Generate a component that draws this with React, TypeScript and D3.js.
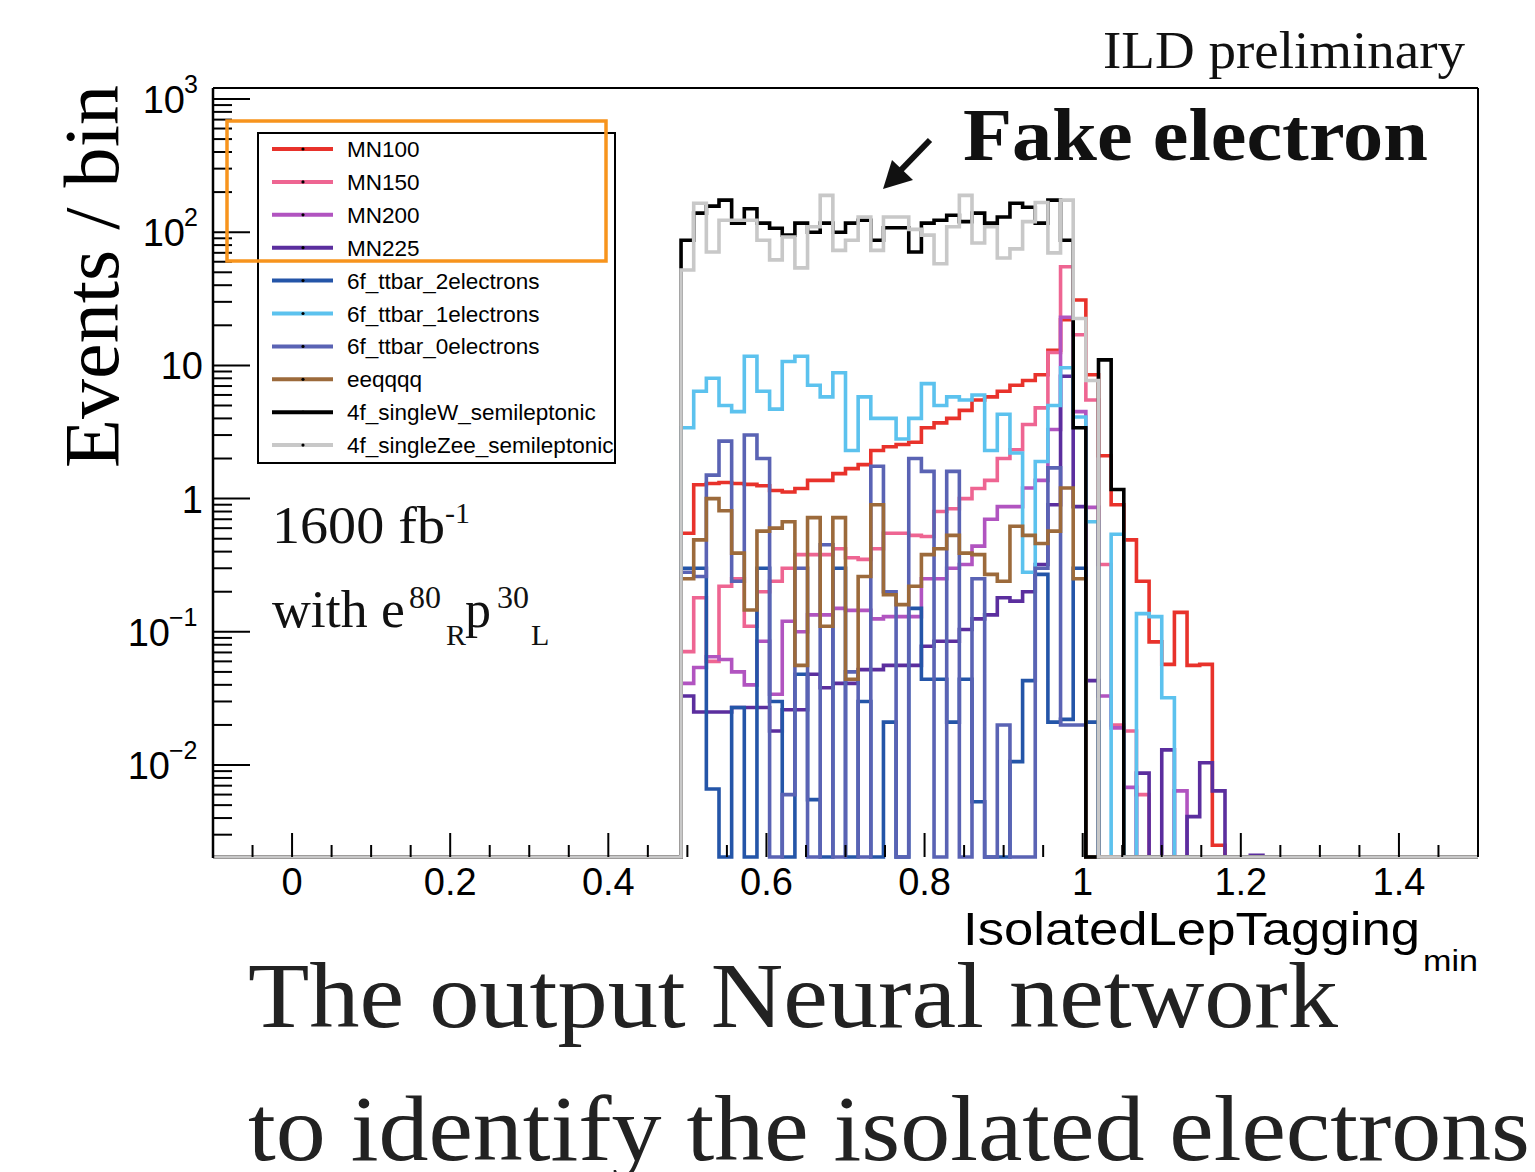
import React from 'react';
import * as d3 from 'd3';

// ---- histogram binning (ROOT-style: 100 bins from -0.1 to 1.5) ----
const BIN_LO = -0.1;
const BIN_W = 0.016;
const N_BINS = 100;
const FIRST_BIN = 37; // every data array starts at this bin (x = 0.492)

// ---- series values (events / bin), bins 37 .. 82 ----
const mn100 = [0.55, 1.27, 1.3, 1.32, 1.3, 1.28, 1.25, 1.15, 1.12, 1.19, 1.37, 1.37, 1.54, 1.68, 1.8, 2.3, 2.45, 2.55, 2.65, 3.4, 3.7, 4.0, 4.6, 5.5, 5.8, 6.4, 7.1, 7.7, 8.5, 13, 22, 31, 8.5, 2.1, 0.9, 0.49, 0.24, 0.084, 0.057, 0.14, 0.056, 0.057, 0.0025, 0, 0, 0];
const mn150 = [0.071, 0.18, 0.06, 0.22, 0.25, 0.11, 0.2, 0.24, 0.3, 0.38, 0.38, 0.38, 0.42, 0.36, 0.35, 0.42, 0.55, 0.55, 0.53, 0.52, 0.8, 0.84, 1.0, 1.19, 1.37, 2.0, 2.33, 3.6, 4.8, 12.5, 55, 17, 5.5, 0.32, 0.02, 0.018, 0.006, 0, 0, 0, 0, 0, 0, 0, 0, 0];
const mn200 = [0.041, 0.054, 0.065, 0.062, 0.05, 0.04, 0.085, 0.034, 0.12, 0.1, 0.134, 0.134, 0.15, 0.145, 0.145, 0.125, 0.13, 0.13, 0.13, 0.25, 0.25, 0.3, 0.32, 0.44, 0.7, 0.87, 0.87, 1.2, 1.37, 3.3, 23, 4.5, 0.86, 0.033, 0.019, 0.0068, 0, 0, 0, 0.0064, 0, 0, 0, 0, 0, 0];
const mn225 = [0.033, 0.025, 0.025, 0.025, 0.027, 0.027, 0.027, 0.018, 0.026, 0.026, 0.048, 0.038, 0.041, 0.041, 0.052, 0.052, 0.056, 0.056, 0.056, 0.078, 0.085, 0.085, 0.104, 0.125, 0.134, 0.18, 0.17, 0.2, 0.32, 0.9, 8.3, 0.87, 0.043, 0, 0, 0, 0.0087, 0, 0.013, 0, 0.0041, 0.0104, 0.0064, 0, 0, 0.0021];
const ttbar2e = [0.3, 0.3, 0.0066, 0, 0.027, 0, 0.3, 0.03, 0, 0.048, 0.0055, 0, 0.3, 0, 0.03, 0, 0.021, 0, 0.15, 0.044, 0.044, 0.021, 0.044, 0.0053, 0, 0, 0.0106, 0.043, 0.27, 0.021, 0.022, 0.3, 0.021, 0, 0, 0, 0, 0, 0, 0, 0, 0, 0, 0, 0, 0];
const ttbar1e = [3.4, 6.4, 8.0, 5.0, 4.5, 11.7, 6.4, 4.7, 10.7, 11.7, 7.1, 5.8, 8.8, 2.3, 5.8, 4.0, 4.0, 2.8, 4.0, 7.3, 5.0, 5.8, 5.5, 6.0, 2.3, 4.3, 2.2, 0.28, 1.9, 5.0, 9.6, 4.1, 0.67, 0, 0.54, 0, 0.137, 0.13, 0.032, 0, 0, 0, 0, 0, 0, 0];
const ttbar0e = [0.28, 0.26, 1.5, 2.7, 0.24, 3.0, 2.0, 0, 0.006, 0.3, 0, 0.45, 0, 0.05, 0, 1.75, 0.2, 0, 2.0, 1.6, 0, 1.6, 0, 0.25, 0, 0.02, 0, 0, 0.3, 1.7, 0.02, 0.02, 0, 0, 0, 0, 0, 0, 0, 0, 0, 0, 0, 0, 0, 0];
const eeqqqq = [0.25, 0.49, 1.0, 0.81, 0.39, 0.146, 0.57, 0.6, 0.67, 0.056, 0.72, 0.11, 0.72, 0.044, 0.26, 0.9, 0.19, 0.16, 0.22, 0.38, 0.42, 0.53, 0.39, 0.38, 0.27, 0.24, 0.62, 0.53, 0.46, 0.57, 1.2, 0.25, 0, 0, 0, 0, 0, 0, 0, 0, 0, 0, 0, 0, 0, 0];
const singleW = [87, 139, 157, 174, 117, 150, 117, 107, 95, 117, 100, 117, 100, 117, 123, 87, 108, 108, 71, 117, 123, 134, 120, 139, 117, 130, 165, 154, 117, 174, 87, 3.4, 0, 11, 1.17, 0, 0, 0, 0, 0, 0, 0, 0, 0, 0, 0];
const singleZee = [52, 165, 71, 123, 123, 123, 87, 62, 92, 54, 110, 189, 73, 87, 130, 73, 130, 130, 105, 95, 58, 110, 189, 83, 110, 64, 75, 120, 167, 70, 174, 22.5, 7.7, 0, 0, 0, 0, 0, 0, 0, 0, 0, 0, 0, 0, 0];

const seriesNames = ['MN100', 'MN150', 'MN200', 'MN225', '6f_ttbar_2electrons', '6f_ttbar_1electrons', '6f_ttbar_0electrons', 'eeqqqq', '4f_singleW_semileptonic', '4f_singleZee_semileptonic'];
const seriesValues = [mn100, mn150, mn200, mn225, ttbar2e, ttbar1e, ttbar0e, eeqqqq, singleW, singleZee];
const seriesColors = ['#e8322b', '#ee6592', '#b154c0', '#5b2e9e', '#2455a8', '#5cc2ee', '#5a63b4', '#9c6a3b', '#000000', '#c8c8c8'];

const xTickValues = [0, 0.2, 0.4, 0.6, 0.8, 1, 1.2, 1.4];
const xTickLabels = ['0', '0.2', '0.4', '0.6', '0.8', '1', '1.2', '1.4'];
const yDecades = [-2, -1, 0, 1, 2, 3];
const yTickBase = ['10', '10', '1', '10', '10', '10'];
const yTickSup = ['\u22122', '\u22121', '', '', '2', '3'];

const X_DOMAIN: [number, number] = [-0.1, 1.5];
const Y_DOMAIN: [number, number] = [0.00204, 1209];

const FRAME = { left: 213, right: 1478, top: 88, bottom: 857 };

export default function App() {
  const x = d3.scaleLinear().domain(X_DOMAIN).range([FRAME.left, FRAME.right]);
  const y = d3.scaleLog().domain(Y_DOMAIN).range([FRAME.bottom, FRAME.top]);
  const yMin = Y_DOMAIN[0];

  const histPath = (vals: number[]) => {
    const p = d3.path();
    for (let i = 0; i < N_BINS; i++) {
      const j = i - FIRST_BIN;
      const v = j >= 0 && j < vals.length ? vals[j] : 0;
      const yy = y(Math.max(v, yMin));
      const x0 = x(BIN_LO + i * BIN_W);
      const x1 = x(BIN_LO + (i + 1) * BIN_W);
      if (i === 0) p.moveTo(x0, yy);
      else p.lineTo(x0, yy);
      p.lineTo(x1, yy);
    }
    return p.toString();
  };

  // x ticks: major every 0.2, minor every 0.05
  const xMinor: number[] = d3.range(-0.1, 1.5001, 0.05).map((v) => Math.round(v * 100) / 100);
  // y minor ticks
  const yMinor: number[] = [];
  for (let d = -3; d <= 3; d++) {
    for (let m = 2; m <= 9; m++) {
      const v = m * Math.pow(10, d);
      if (v >= Y_DOMAIN[0] && v <= Y_DOMAIN[1]) yMinor.push(v);
    }
  }

  const sans = "'Liberation Sans', Arial, Helvetica, sans-serif";
  const serif = "'Liberation Serif', 'Times New Roman', serif";

  const legendX = 258, legendY = 133, legendW = 357, legendH = 330;
  const legendRow0 = 149, legendStep = 32.9;

  return (
    <svg width={1535} height={1172} style={{ position: 'absolute', left: 0, top: 0, background: '#fff' }}>
      <defs>
        <clipPath id="plotClip">
          <rect x={FRAME.left} y={FRAME.top} width={FRAME.right - FRAME.left} height={FRAME.bottom - FRAME.top + 2} />
        </clipPath>
      </defs>
      <rect x={0} y={0} width={1535} height={1172} fill="#fff" />

      {/* frame */}
      <line x1={FRAME.left} x2={FRAME.right} y1={FRAME.top} y2={FRAME.top} stroke="#000" strokeWidth={2} />
      <line x1={FRAME.right} x2={FRAME.right} y1={FRAME.top} y2={FRAME.bottom} stroke="#000" strokeWidth={2} />

      {/* histograms */}
      <g clipPath="url(#plotClip)" fill="none" strokeLinejoin="miter">
        {seriesValues.map((vals, k) => (
          <path key={k} d={histPath(vals)} stroke={seriesColors[k]} strokeWidth={3.6} />
        ))}
      </g>

      {/* left axis */}
      <line x1={FRAME.left} x2={FRAME.left} y1={FRAME.top} y2={FRAME.bottom + 1} stroke="#000" strokeWidth={2.5} />
      {yDecades.map((d) => (
        <line key={'ym' + d} x1={FRAME.left} x2={FRAME.left + 37} y1={y(Math.pow(10, d))} y2={y(Math.pow(10, d))} stroke="#000" strokeWidth={2} />
      ))}
      {yMinor.map((v, i) => (
        <line key={'yn' + i} x1={FRAME.left} x2={FRAME.left + 19} y1={y(v)} y2={y(v)} stroke="#000" strokeWidth={2} />
      ))}
      {yDecades.map((d, i) => (
        <text key={'yl' + d} x={yTickSup[i] ? 203 - (yTickSup[i].length > 1 ? 33 : 18) : 203} y={y(Math.pow(10, d)) + 14} textAnchor="end" fontFamily={sans} fontSize={38} fill="#000">
          {yTickBase[i]}
        </text>
      ))}
      {yDecades.map((d, i) =>
        yTickSup[i] ? (
          <text key={'ys' + d} x={yTickSup[i].length > 1 ? 169 : 184} y={y(Math.pow(10, d)) - 6} fontFamily={sans} fontSize={25} fill="#000">
            {yTickSup[i]}
          </text>
        ) : null
      )}

      {/* x axis ticks */}
      {xMinor.map((v, i) => {
        const major = Math.abs(Math.round(v * 10) / 10 - v) < 1e-6 && Math.round(v * 10) % 2 === 0;
        return (
          <line key={'xt' + i} x1={x(v)} x2={x(v)} y1={FRAME.bottom} y2={FRAME.bottom - (major ? 24 : 12)} stroke="#000" strokeWidth={2} />
        );
      })}
      {xTickValues.map((v, i) => (
        <text key={'xl' + i} x={x(v)} y={895} textAnchor="middle" fontFamily={sans} fontSize={38} fill="#000">
          {xTickLabels[i]}
        </text>
      ))}

      {/* axis titles */}
      <text x={963} y={945} fontFamily={sans} fontSize={46} textLength={457} lengthAdjust="spacingAndGlyphs" fill="#000">IsolatedLepTagging</text>
      <text x={1423} y={971} fontFamily={sans} fontSize={30} textLength={55} lengthAdjust="spacingAndGlyphs" fill="#000">min</text>
      <text transform="translate(118,468) rotate(-90)" fontFamily={serif} fontSize={78} textLength={383} lengthAdjust="spacingAndGlyphs" fill="#000">Events / bin</text>

      {/* legend */}
      <rect x={legendX} y={legendY} width={legendW} height={legendH} fill="#fff" stroke="#000" strokeWidth={2} />
      {seriesNames.map((name, k) => {
        const cy = legendRow0 + k * legendStep;
        return (
          <g key={'lg' + k}>
            <line x1={272} x2={333} y1={cy} y2={cy} stroke={seriesColors[k]} strokeWidth={4} />
            <circle cx={303} cy={cy} r={1.6} fill="#000" />
            <text x={347} y={cy + 8} fontFamily={sans} fontSize={22.5} fill="#000">{name}</text>
          </g>
        );
      })}
      <rect x={227} y={121} width={379} height={140} fill="none" stroke="#f7941d" strokeWidth={3.5} />

      {/* annotations */}
      <text x={1103} y={68} fontFamily={serif} fontSize={53} textLength={362} lengthAdjust="spacingAndGlyphs" fill="#111">ILD preliminary</text>
      <text x={963} y={160} fontFamily={serif} fontWeight="bold" fontSize={75} textLength={465} lengthAdjust="spacingAndGlyphs" fill="#111">Fake electron</text>
      <line x1={930} y1={140} x2={900} y2={171} stroke="#111" strokeWidth={6} />
      <polygon points="883,189 892,160 913,180" fill="#111" />

      <text x={272} y={543} fontFamily={serif} fontSize={52} textLength={173} lengthAdjust="spacingAndGlyphs" fill="#111">1600 fb</text>
      <text x={445} y={523} fontFamily={serif} fontSize={30} fill="#111">-1</text>
      <text x={272} y={627} fontFamily={serif} fontSize={52} textLength={133} lengthAdjust="spacingAndGlyphs" fill="#111">with e</text>
      <text x={409} y={608} fontFamily={serif} fontSize={32} fill="#111">80</text>
      <text x={446} y={645} fontFamily={serif} fontSize={30} fill="#111">R</text>
      <text x={465} y={627} fontFamily={serif} fontSize={52} fill="#111">p</text>
      <text x={497} y={608} fontFamily={serif} fontSize={32} fill="#111">30</text>
      <text x={531} y={645} fontFamily={serif} fontSize={30} fill="#111">L</text>

      <text x={248} y={1027} fontFamily={serif} fontSize={94} textLength={1090} lengthAdjust="spacingAndGlyphs" fill="#222">The output Neural network</text>
      <text x={248} y={1160} fontFamily={serif} fontSize={94} textLength={1282} lengthAdjust="spacingAndGlyphs" fill="#222">to identify the isolated electrons</text>
    </svg>
  );
}
